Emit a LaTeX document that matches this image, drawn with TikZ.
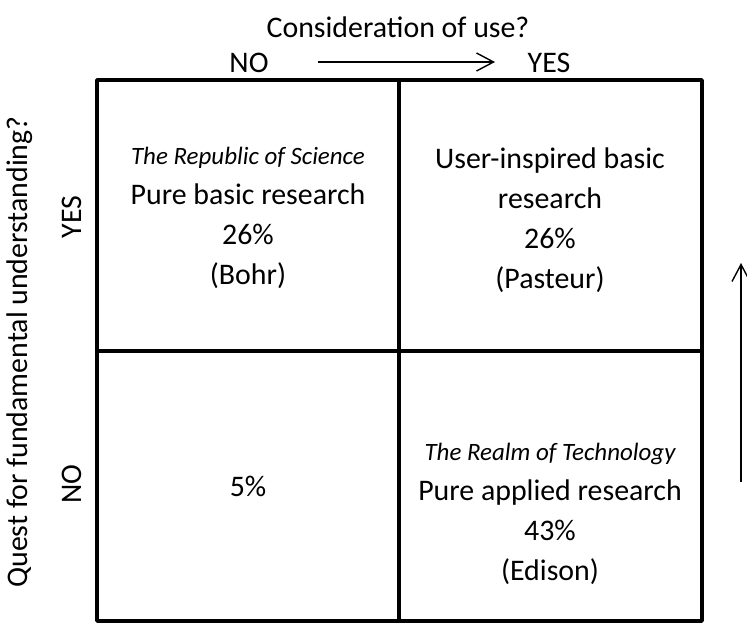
\documentclass[tikz,border=0pt]{standalone}
\usepackage{fontspec}
\setmainfont{Carlito}
\usetikzlibrary{arrows.meta}
\tikzset{
  cell/.style={align=center, inner sep=0pt, font=\fontsize{17}{22.8}\selectfont},
  lbl/.style={inner sep=0pt, font=\fontsize{17}{20}\selectfont},
  gridline/.style={line width=2pt},
  axisarrow/.style={line width=0.8pt, -{Straight Barb[length=0.34cm, width=0.36cm, line width=0.8pt]}},
}
\newcommand{\realmname}[1]{{\fontsize{14.2}{22.8}\selectfont\itshape #1}}

\begin{document}
\begin{tikzpicture}[x=0.02cm, y=-0.02cm, line join=round]
\useasboundingbox (0,0) rectangle (747,622);
% the four quadrants
\draw[gridline] (97,80) rectangle (702,621);
\draw[gridline] (399,80) -- (399,621);
\draw[gridline] (97,351) -- (702,351);
% top axis
\node[lbl] (cuse) at (398,27) {Consideration of use?};
\node[lbl] (cno) at (249,63) {NO};
\node[lbl] (cyes) at (549,63) {YES};
\coordinate (cfrom) at (318,62);
\coordinate (cto) at (495,62);
\draw[axisarrow] (cfrom) -- (cto);
% left axis
\node[lbl, rotate=90] (quest) at (20,352) {Quest for fundamental understanding?};
\node[lbl, rotate=90] (qyes) at (72,217) {YES};
\node[lbl, rotate=90] (qno) at (72,484) {NO};
% right arrow
\coordinate (rfrom) at (741,482);
\coordinate (rto) at (741,263);
\draw[axisarrow] (rfrom) -- (rto);
% cells
\node[cell] (bohr) at (248,218) {\realmname{The Republic of Science}\\Pure basic research\\26\%\\(Bohr)};
\node[cell] (pasteur) at (550,220) {User-inspired basic\\research\\26\%\\(Pasteur)};
\node[cell] (none) at (248,486) {5\%};
\node[cell] (edison) at (550,514) {\realmname{The Realm of Technology}\\Pure applied research\\43\%\\(Edison)};
\end{tikzpicture}
\end{document}
